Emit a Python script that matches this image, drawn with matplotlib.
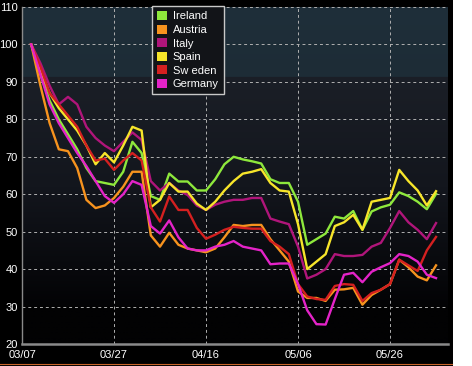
import numpy as np
import pandas as pd
import matplotlib
matplotlib.use("Agg")
import matplotlib.pyplot as plt
import matplotlib.dates as mdates
from matplotlib.lines import Line2D
from matplotlib.patches import Rectangle

plt.rcParams['font.family'] = ['Liberation Sans', 'DejaVu Sans']

dates = pd.date_range('2020-03-09', periods=45, freq='2D')

ireland = [100, 92, 85, 80, 76, 72, 67, 63.5, 63, 62.5, 66, 74, 71, 59.5, 58.5, 65.5, 63.4, 63.4, 61, 61,
           64, 68, 70, 69.3, 68.8, 68.2, 64, 63, 63, 58, 46.5, 48, 49.5, 54, 53.5, 55.5, 50.5, 55.4, 56.5, 57.2,
           60.5, 59.5, 58, 56, 60.1]
austria = [100, 89, 79, 72, 71.5, 67, 58.5, 56.3, 57, 59, 62, 66, 66, 49, 46, 49.7, 46.5, 45.5, 45, 44.5,
           45.5, 48.5, 51.8, 51.5, 51.8, 51.8, 48, 45, 42, 34, 32.3, 32.3, 31.5, 34.5, 34.6, 35, 30.5, 33.1, 34.5, 36,
           42.5, 40.5, 38, 37, 41]
italy = [100, 95, 89, 84, 86, 84, 78, 75, 73, 71.5, 74, 76.5, 74.5, 63.5, 61, 63, 61, 59.8, 57, 55.8,
         57.2, 58, 58.5, 58.5, 59, 59, 53.5, 52.7, 52, 46, 37.5, 38.5, 40, 44, 43.5, 43.5, 43.8, 46, 47, 51,
         55.5, 52.5, 50.5, 48, 52.3]
spain = [100, 93, 87, 83, 80, 77, 73, 68, 71, 68.5, 73, 78, 77, 56.5, 58.5, 63, 60.7, 60.7, 57.5, 55.8,
         58, 61, 63.5, 65.5, 66, 66.7, 63, 61, 60.7, 52, 40, 42, 44, 51.5, 52.5, 54.5, 50.5, 58, 58.5, 59,
         66.5, 63.5, 61, 57, 60.8]
sweden = [100, 94, 87, 84, 81, 78, 73, 69, 69.5, 66.5, 69, 71, 69, 56.5, 52.7, 59.4, 55.8, 55.8, 51, 48.1,
          49.2, 50.5, 51.3, 51, 50.8, 50.8, 47.5, 46, 44, 36, 32.7, 32, 31.8, 35.5, 36, 35.8, 31.5, 33.6, 34.5, 36,
          42.5, 41, 39.5, 45, 48.6]
germany = [100, 92, 84, 79, 75, 71, 67.5, 63.5, 59.5, 57.7, 60, 63.5, 62.5, 51.5, 49.5, 53, 48.5, 45.5, 45, 45,
           46, 46.5, 47.5, 46, 45.5, 45, 41.3, 41.5, 41.5, 36, 29, 25.3, 25.2, 32, 38.5, 39, 36.5, 39.3, 40.5, 41.6,
           44, 43.5, 42, 38.5, 37.6]

series_names = ['Ireland', 'Austria', 'Italy', 'Spain', 'Sw eden', 'Germany']
series_vals = [ireland, austria, italy, spain, sweden, germany]
colors = ['#8ee83c', '#f7931e', '#b0157a', '#f7e52a', '#d42020', '#e423c8']

xtick_labels = ['03/07', '03/27', '04/16', '05/06', '05/26']
yticks = [20, 30, 40, 50, 60, 70, 80, 90, 100, 110]

W, H = 472, 366
fig = plt.figure(figsize=(W / 100, H / 100), dpi=100, facecolor='white')
fig.patches.append(Rectangle((0, 0), 453 / W, 1, transform=fig.transFigure,
                             facecolor='black', edgecolor='none', zorder=-10))
fig.add_artist(Line2D([0, 452 / W], [1 - 363.5 / H, 1 - 363.5 / H], transform=fig.transFigure,
                      color='#c8642a', lw=0.8))

ax = fig.add_axes([22 / W, 1 - 344 / H, (448 - 22) / W, (344 - 7) / H])
ax.set_facecolor('black')

x0 = mdates.date2num(pd.Timestamp('2020-03-07'))
x1 = x0 + 92.6
ax.set_xlim(x0, x1)
ax.set_ylim(20, 110)

# background gradient
yy = np.linspace(110, 20, 400)
img = np.zeros((400, 1, 3))
for i, v in enumerate(yy):
    if v > 91.5:
        t = (110 - v) / 18.5
        c = np.array([31, 47, 58]) * (1 - t) + np.array([29, 44, 54]) * t
    elif v > 62:
        t = (91.5 - v) / 29.5
        c = np.array([27, 31, 39]) * (1 - t) + np.array([19, 22, 29]) * t
    elif v > 30:
        t = (62 - v) / 32
        c = np.array([19, 22, 29]) * (1 - t) + np.array([3, 3, 5]) * t
    else:
        c = np.array([2, 2, 3])
    img[i, 0] = c / 255
ax.imshow(img, extent=[x0, x1, 20, 110], aspect='auto', zorder=0, interpolation='bilinear')

for name, vals, col in zip(series_names, series_vals, colors):
    ax.plot(dates, vals, color=col, lw=1.7, label=name, zorder=3, solid_joinstyle='round')

xt = [x0 + 20 * i for i in range(len(xtick_labels))]
ax.set_xticks(xt)
ax.set_xticklabels(xtick_labels)
ax.set_yticks(yticks)
ax.set_yticklabels([str(v) for v in yticks])
ax.grid(True, color='#b0b0b0', linestyle=(0, (3, 3)), lw=0.7, zorder=1)
ax.tick_params(colors='white', labelsize=8, length=0, pad=3)
ax.tick_params(axis='x', pad=4)
for s in ['top', 'right']:
    ax.spines[s].set_visible(False)
ax.spines['left'].set_color('#8a8a8a')
ax.spines['bottom'].set_color('#8a8a8a')
ax.spines['bottom'].set_linewidth(1.8)
ax.spines['left'].set_linewidth(1.0)
for s in ['left', 'bottom']:
    ax.spines[s].set_zorder(4)

handles = [Rectangle((0, 0), 1, 1, facecolor=c, edgecolor='none') for c in colors]
leg = ax.legend(handles, series_names, loc='upper left', bbox_to_anchor=((152 - 22) / 426, 1.0 + 1 / 337),
                fontsize=8, frameon=True, fancybox=False, framealpha=1,
                handlelength=0.9, handleheight=0.9, handletextpad=0.5, labelspacing=0.28,
                borderpad=0.45, borderaxespad=0)
leg.get_frame().set_facecolor('#121418')
leg.get_frame().set_edgecolor('#c8c8c8')
leg.get_frame().set_linewidth(1.0)
for t in leg.get_texts():
    t.set_color('white')
leg.set_zorder(5)

fig.savefig('out.png', dpi=100, facecolor=fig.get_facecolor())
